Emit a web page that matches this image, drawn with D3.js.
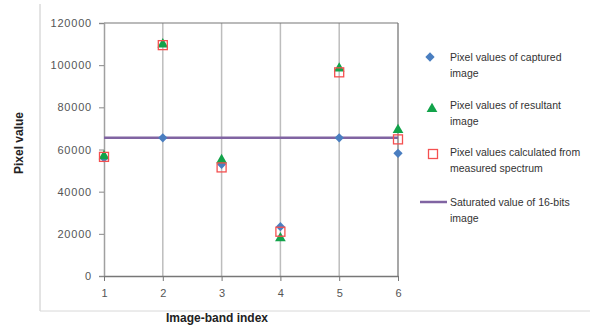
<!DOCTYPE html>
<html><head><meta charset="utf-8">
<script src="https://cdn.jsdelivr.net/npm/d3@7"></script>
<style>body{margin:0;background:#fff}svg{display:block}</style>
</head><body>
<svg id="c" width="590" height="329"></svg>
<script>
const bands = [1, 2, 3, 4, 5, 6];
const captured = [56000, 65535, 53000, 23400, 65535, 58200];
const resultant = [56900, 109900, 55000, 17900, 98500, 69300];
const calculated = [56500, 109500, 51500, 21000, 96600, 64800];
const saturated = 65535;
const yTicks = [0, 20000, 40000, 60000, 80000, 100000, 120000];
const legendLabels = [
  ["Pixel values of captured", "image"],
  ["Pixel values of resultant", "image"],
  ["Pixel values calculated from", "measured spectrum"],
  ["Saturated value of 16-bits", "image"]
];

const svg = d3.select("#c");
const x = d3.scaleLinear().domain([1, 6]).range([104, 398]);
const y = d3.scaleLinear().domain([0, 120000]).range([276, 23]);
const font = "'Liberation Sans', Arial, sans-serif";

// chart area border (left & bottom)
svg.append("line").attr("x1", 40).attr("x2", 40).attr("y1", 4).attr("y2", 311).attr("stroke", "#c8c8c8").attr("stroke-width", 1);
svg.append("line").attr("x1", 40).attr("x2", 590).attr("y1", 311).attr("y2", 311).attr("stroke", "#d8d8d8").attr("stroke-width", 1);

// vertical gridlines
svg.append("g").selectAll("line").data(bands.slice(1, 5)).join("line")
  .attr("x1", d => x(d)).attr("x2", d => x(d)).attr("y1", y(120000)).attr("y2", y(0))
  .attr("stroke", "#bdbdbd").attr("stroke-width", 1.5);
// right border & top
svg.append("line").attr("x1", x(6)).attr("x2", x(6)).attr("y1", y(120000)).attr("y2", y(0)).attr("stroke", "#8a8a8a").attr("stroke-width", 1.5);
svg.append("line").attr("x1", x(1)).attr("x2", x(6)).attr("y1", y(120000)).attr("y2", y(120000)).attr("stroke", "#777").attr("stroke-width", 1.2);

// y axis
const yAxis = svg.append("g").attr("transform", `translate(${x(1)},0)`)
  .call(d3.axisLeft(y).tickValues(yTicks).tickFormat(d3.format("d")).tickSize(5).tickPadding(7));
yAxis.select(".domain").attr("stroke", "#a0a0a0").attr("stroke-width", 1.5);
yAxis.selectAll(".tick line").attr("stroke", "#888");
yAxis.selectAll("text").attr("font-family", font).attr("font-size", 11).attr("fill", "#555").attr("letter-spacing", 0.8);

// x axis
const xAxis = svg.append("g").attr("transform", `translate(0,${y(0)})`)
  .call(d3.axisBottom(x).tickValues(bands).tickFormat(d3.format("d")).tickSize(5).tickSizeOuter(0).tickPadding(8));
xAxis.select(".domain").attr("stroke", "#777").attr("stroke-width", 1.5);
xAxis.selectAll(".tick line").attr("stroke", "#777");
xAxis.selectAll("text").attr("font-family", font).attr("font-size", 11).attr("fill", "#555");

// saturated line
svg.append("line").attr("x1", x(1)).attr("x2", x(6)).attr("y1", y(saturated)).attr("y2", y(saturated))
  .attr("stroke", "#8064A2").attr("stroke-width", 2.5);

const diamond = d3.symbol().type(d3.symbolDiamond2 || d3.symbolDiamond).size(55);
const tri = d3.symbol().type(d3.symbolTriangle).size(50);

svg.append("g").selectAll("path").data(bands).join("path")
  .attr("d", diamond).attr("transform", (d, i) => `translate(${x(d)},${y(captured[i])})`)
  .attr("fill", "#4A7EC0");
svg.append("g").selectAll("path").data(bands).join("path")
  .attr("d", tri).attr("transform", (d, i) => `translate(${x(d)},${y(resultant[i])})`)
  .attr("fill", "#12A34A");
svg.append("g").selectAll("rect").data(bands).join("rect")
  .attr("x", (d) => x(d) - 4.5).attr("y", (d, i) => y(calculated[i]) - 4.5)
  .attr("width", 9).attr("height", 9).attr("fill", "none").attr("stroke", "#F45050").attr("stroke-width", 1.3);

// axis titles
svg.append("text").attr("x", 217).attr("y", 322).attr("text-anchor", "middle")
  .attr("font-family", font).attr("font-size", 12).attr("font-weight", "bold").attr("fill", "#222")
  .text("Image-band index");
svg.append("text").attr("transform", "translate(23,143) rotate(-90)").attr("text-anchor", "middle")
  .attr("font-family", font).attr("font-size", 12).attr("font-weight", "bold").attr("fill", "#222")
  .text("Pixel value");

// legend
const lg = svg.append("g");
const rowsY = [57, 105, 152, 202];
const lfont = 10.5;
legendLabels.forEach((lab, i) => {
  const yy = rowsY[i];
  if (i === 0) lg.append("path").attr("d", diamond).attr("transform", `translate(430,${yy})`).attr("fill", "#4A7EC0");
  if (i === 1) lg.append("path").attr("d", tri).attr("transform", `translate(432,${yy + 4})`).attr("fill", "#12A34A");
  if (i === 2) lg.append("rect").attr("x", 428.5).attr("y", yy + 2 - 4.5).attr("width", 9).attr("height", 9).attr("fill", "none").attr("stroke", "#F45050").attr("stroke-width", 1.3);
  if (i === 3) lg.append("line").attr("x1", 420).attr("x2", 447).attr("y1", yy).attr("y2", yy).attr("stroke", "#8064A2").attr("stroke-width", 2.5);
  lab.forEach((t, j) => {
    lg.append("text").attr("x", 450).attr("y", yy + 4 + j * 15.5)
      .attr("font-family", font).attr("font-size", lfont).attr("fill", "#333").text(t);
  });
});
</script>
</body></html>
